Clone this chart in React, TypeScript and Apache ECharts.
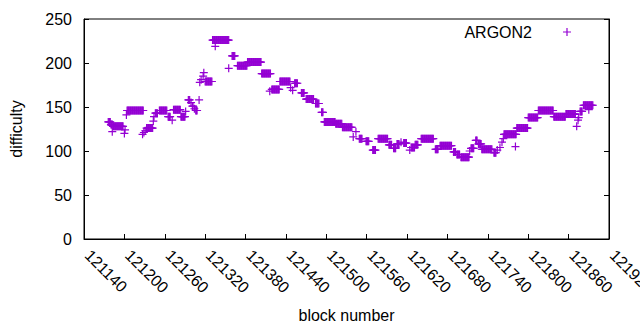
import React, { useEffect, useRef } from "react";
import * as echarts from "echarts";

// Runs of consecutive blocks sharing the same difficulty (start block, end block, value)
const runStart = [
  121176, 121180, 121182, 121183, 121200, 121201, 121203, 121204, 121227, 121229,
  121231, 121233, 121243, 121244, 121246, 121252, 121265, 121271, 121273, 121284,
  121291, 121295, 121299, 121301, 121304, 121306, 121311, 121312, 121314, 121317,
  121318, 121320, 121331, 121335, 121355, 121360, 121368, 121383, 121404, 121416,
  121419, 121431, 121447, 121450, 121453, 121463, 121470, 121484, 121493, 121497,
  121514, 121524, 121540, 121544, 121549, 121559, 121569, 121577, 121593, 121600,
  121605, 121611, 121615, 121624, 121626, 121632, 121641, 121662, 121669, 121689,
  121694, 121700, 121713, 121715, 121722, 121726, 121731, 121749, 121754, 121758,
  121761, 121763, 121764, 121781, 121783, 121800, 121815, 121838, 121856, 121872,
  121874, 121875, 121877, 121882, 121890,
];
const runEnd = [
  121179, 121182, 121182, 121198, 121200, 121201, 121203, 121228, 121227, 121229,
  121231, 121242, 121243, 121244, 121249, 121263, 121268, 121271, 121283, 121290,
  121291, 121297, 121299, 121302, 121304, 121308, 121311, 121312, 121314, 121317,
  121318, 121330, 121355, 121335, 121355, 121364, 121382, 121403, 121417, 121416,
  121430, 121446, 121447, 121450, 121457, 121467, 121481, 121489, 121495, 121513,
  121523, 121538, 121540, 121544, 121553, 121563, 121573, 121591, 121597, 121603,
  121608, 121611, 121619, 121624, 121631, 121636, 121659, 121666, 121686, 121692,
  121698, 121712, 121713, 121719, 121724, 121730, 121746, 121752, 121754, 121758,
  121761, 121763, 121782, 121781, 121799, 121814, 121837, 121855, 121870, 121872,
  121874, 121875, 121880, 121896, 121890,
];
const runValue = [
  133, 130, 122, 128, 120, 124, 141, 146, 119, 121,
  123, 126, 134, 139, 143, 146, 139, 135, 147, 139,
  145, 158, 155, 151, 148, 146, 158, 178, 181, 185,
  189, 179, 226, 219, 194, 208, 197, 201, 188, 168,
  170, 179, 172, 169, 177, 166, 159, 154, 144, 133,
  131, 127, 116, 122, 114, 111, 101, 114, 107, 103,
  108, 110, 109, 101, 104, 107, 114, 102, 106, 99,
  96, 93, 100, 103, 112, 108, 102, 98, 101, 104,
  110, 114, 119, 105, 126, 138, 146, 139, 142, 128,
  135, 138, 145, 152, 147,
];

const seriesName = "ARGON2";
const xTickMin = 121140;
const xTickMax = 121920;
const xTickStep = 60;
const yTickMin = 0;
const yTickMax = 250;
const yTickStep = 50;

const plusPath = "path://M-4,-0.6h8v1.2h-8zM-0.6,-4h1.2v8h-1.2z";
const FONT = "Liberation Sans";

export default function App() {
  const ref = useRef<HTMLDivElement>(null);
  useEffect(() => {
    if (!ref.current) return;
    document.body.style.margin = "0";
    const chart = echarts.init(ref.current, null, { renderer: "svg" });
    const points: number[][] = [];
    for (let i = 0; i < runStart.length; i++) {
      for (let b = runStart[i]; b <= runEnd[i]; b++) points.push([b, runValue[i]]);
    }
    const axisText = { color: "#000", fontFamily: FONT, fontSize: 16 };
    chart.setOption({
      animation: false,
      backgroundColor: "#fff",
      grid: {
        left: 84, right: 31, top: 19, bottom: 91,
        show: true, borderColor: "#000", borderWidth: 1,
        containLabel: false, outerBoundsMode: "none",
      },
      legend: {
        data: [{ name: seriesName, icon: plusPath, itemStyle: { color: "#9400d3", opacity: 1 } }],
        right: 64, top: 19, align: "right",
        itemWidth: 8, itemHeight: 8,
        textStyle: { ...axisText, padding: [0, 26, 0, 0] },
      },
      xAxis: {
        type: "value", min: xTickMin, max: xTickMax, interval: xTickStep,
        name: "block number", nameLocation: "middle", nameGap: 68,
        nameTextStyle: { ...axisText, verticalAlign: "top" },
        axisLine: { lineStyle: { color: "#000", width: 1 } },
        axisTick: { inside: true, length: 5, lineStyle: { color: "#000" } },
        axisLabel: {
          ...axisText, rotate: -45, margin: 10, padding: [0, 0, 0, 5],
          showMaxLabel: true, showMinLabel: true,
          formatter: (v: number) => String(v),
        },
        splitLine: { show: false },
      },
      yAxis: [
        {
          type: "value", min: yTickMin, max: yTickMax, interval: yTickStep,
          name: "difficulty", nameLocation: "middle", nameGap: 60, nameRotate: 90,
          nameTextStyle: axisText,
          axisLine: { show: true, lineStyle: { color: "#000", width: 1 } },
          axisTick: { show: true, inside: true, length: 5, lineStyle: { color: "#000" } },
          axisLabel: { ...axisText, margin: 12 },
          splitLine: { show: false },
        },
        {
          type: "value", min: yTickMin, max: yTickMax, interval: yTickStep, position: "right",
          axisLine: { show: true, lineStyle: { color: "#000", width: 1 } },
          axisTick: { show: true, inside: true, length: 5, lineStyle: { color: "#000" } },
          axisLabel: { show: false },
          splitLine: { show: false },
        },
      ],
      series: [
        {
          name: seriesName, type: "scatter", data: points,
          symbol: plusPath, symbolSize: 8,
          itemStyle: { color: "#9400d3", opacity: 1 },
          emphasis: { disabled: true },
        },
      ],
    });
    return () => chart.dispose();
  }, []);
  return <div ref={ref} style={{ width: 640, height: 330 }} />;
}
